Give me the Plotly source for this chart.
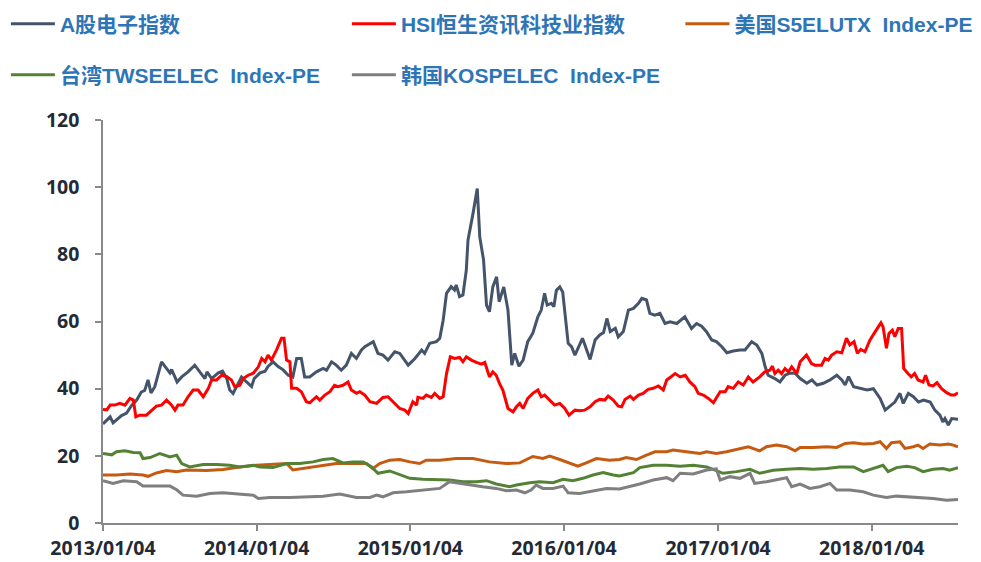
import plotly.graph_objects as go

TICK_DATES = ["2013-01-04", "2014-01-04", "2015-01-04", "2016-01-04", "2017-01-04", "2018-01-04"]
TICK_TEXT = ["2013/01/04", "2014/01/04", "2015/01/04", "2016/01/04", "2017/01/04", "2018/01/04"]

A_DATES = [
    "2013-01-04", "2013-01-21", "2013-01-28", "2013-02-17", "2013-03-01", "2013-03-13", "2013-03-25",
    "2013-04-05", "2013-04-13", "2013-04-21", "2013-04-28", "2013-05-07", "2013-05-23", "2013-06-04",
    "2013-06-12", "2013-06-16", "2013-06-29", "2013-07-10", "2013-07-25", "2013-08-10", "2013-08-22",
    "2013-09-03", "2013-09-08", "2013-09-19", "2013-10-05", "2013-10-15", "2013-10-25", "2013-11-01",
    "2013-11-09", "2013-11-17", "2013-11-29", "2013-12-11", "2013-12-23", "2013-12-29", "2014-01-12",
    "2014-01-24", "2014-01-31", "2014-02-12", "2014-02-24", "2014-03-08", "2014-03-20", "2014-03-31",
    "2014-04-09", "2014-04-20", "2014-04-28", "2014-05-10", "2014-05-26", "2014-06-11", "2014-06-19",
    "2014-07-01", "2014-07-12", "2014-07-24", "2014-08-05", "2014-08-17", "2014-08-29", "2014-09-10",
    "2014-09-18", "2014-10-08", "2014-10-19", "2014-10-31", "2014-11-12", "2014-11-28", "2014-12-10",
    "2014-12-30", "2015-01-15", "2015-01-31", "2015-02-07", "2015-02-19", "2015-03-07", "2015-03-15",
    "2015-03-23", "2015-03-31", "2015-04-11", "2015-04-19", "2015-04-23", "2015-05-01", "2015-05-09",
    "2015-05-17", "2015-05-21", "2015-06-02", "2015-06-12", "2015-06-18", "2015-06-27", "2015-07-04",
    "2015-07-11", "2015-07-19", "2015-07-28", "2015-08-03", "2015-08-14", "2015-08-24", "2015-09-02",
    "2015-09-09", "2015-09-19", "2015-09-29", "2015-10-10", "2015-10-22", "2015-11-03", "2015-11-11",
    "2015-11-19", "2015-11-25", "2015-12-05", "2015-12-11", "2015-12-17", "2015-12-25", "2016-01-01",
    "2016-01-14", "2016-01-22", "2016-01-30", "2016-02-17", "2016-03-06", "2016-03-18", "2016-03-29",
    "2016-04-07", "2016-04-15", "2016-04-23", "2016-05-05", "2016-05-12", "2016-05-24", "2016-06-05",
    "2016-06-17", "2016-06-29", "2016-07-07", "2016-07-18", "2016-07-26", "2016-08-07", "2016-08-19",
    "2016-08-31", "2016-09-12", "2016-09-28", "2016-10-17", "2016-11-02", "2016-11-14", "2016-11-26",
    "2016-12-08", "2016-12-20", "2016-12-31", "2017-01-13", "2017-01-25", "2017-02-09", "2017-02-25",
    "2017-03-09", "2017-03-25", "2017-04-06", "2017-04-18", "2017-04-26", "2017-05-03", "2017-05-19",
    "2017-05-31", "2017-06-12", "2017-06-24", "2017-07-06", "2017-07-18", "2017-08-03", "2017-08-15",
    "2017-08-27", "2017-09-11", "2017-09-27", "2017-10-13", "2017-10-25", "2017-11-02", "2017-11-10",
    "2017-11-22", "2017-12-08", "2017-12-24", "2018-01-08", "2018-01-24", "2018-02-05", "2018-02-17",
    "2018-02-28", "2018-03-12", "2018-03-20", "2018-04-01", "2018-04-13", "2018-04-25", "2018-05-07",
    "2018-05-23", "2018-06-03", "2018-06-15", "2018-06-22", "2018-06-27", "2018-07-05", "2018-07-13",
    "2018-07-28",
]
A_VALUES = [
    29.5, 31.6, 29.8, 32.0, 32.7, 35.0, 36.6,
    39.0, 39.5, 42.6, 38.7, 40.6, 48.0, 46.0,
    44.7, 45.7, 42.0, 43.5, 45.0, 47.0, 45.0,
    43.0, 45.0, 43.0, 44.7, 45.2, 43.0, 39.6,
    38.6, 40.6, 43.5, 42.0, 40.6, 43.0, 44.7,
    45.2, 46.6, 48.0, 46.6, 45.6, 44.0, 43.5,
    49.0, 49.0, 43.5, 43.5, 45.0, 46.0, 45.5,
    48.0, 47.0, 45.5, 47.0, 50.5, 49.0, 51.5,
    52.5, 54.0, 50.5, 50.0, 48.5, 51.0, 50.5,
    47.0, 49.0, 51.5, 50.5, 53.5, 54.0, 55.0,
    60.4, 68.4, 70.4, 69.4, 70.9, 67.4, 67.9,
    75.3, 84.2, 92.2, 99.6, 85.2, 78.3, 64.9,
    62.9, 70.3, 73.3, 65.9, 70.3, 63.4, 47.0,
    50.5, 46.7, 48.5, 54.0, 56.5, 61.4, 63.4,
    68.4, 64.9, 65.4, 64.4, 69.3, 70.3, 68.8,
    53.5, 52.5, 50.0, 55.0, 48.7, 54.5, 56.0,
    56.7, 60.9, 57.0, 58.0, 55.4, 57.0, 63.4,
    63.9, 65.4, 66.9, 66.4, 62.4, 61.9, 62.4,
    59.4, 59.9, 59.4, 61.4, 57.9, 59.4, 58.6,
    56.9, 54.5, 54.0, 52.5, 50.7, 51.2, 51.5,
    51.5, 54.0, 53.0, 50.5, 46.5, 44.0, 43.0,
    42.0, 44.0, 44.6, 44.6, 43.0, 41.6, 42.6,
    41.1, 41.6, 42.6, 44.0, 42.6, 41.1, 43.6,
    40.6, 40.0, 39.6, 40.0, 37.1, 33.6, 35.0,
    36.0, 38.6, 35.6, 38.6, 37.6, 36.0, 36.6,
    36.0, 33.6, 32.1, 30.1, 31.1, 29.2, 31.1,
    30.9,
]

HSI_DATES = [
    "2013-01-04", "2013-01-13", "2013-01-21", "2013-02-01", "2013-02-13", "2013-02-25", "2013-03-09",
    "2013-03-17", "2013-03-23", "2013-04-01", "2013-04-17", "2013-04-29", "2013-05-11", "2013-05-23",
    "2013-06-04", "2013-06-16", "2013-06-24", "2013-07-01", "2013-07-13", "2013-07-25", "2013-08-06",
    "2013-08-18", "2013-08-30", "2013-09-11", "2013-09-19", "2013-10-01", "2013-10-13", "2013-10-25",
    "2013-11-05", "2013-11-13", "2013-11-25", "2013-12-03", "2013-12-15", "2013-12-27", "2014-01-08",
    "2014-01-16", "2014-01-24", "2014-01-31", "2014-02-08", "2014-02-20", "2014-03-04", "2014-03-10",
    "2014-03-16", "2014-03-24", "2014-03-28", "2014-04-09", "2014-04-20", "2014-05-02", "2014-05-10",
    "2014-05-26", "2014-06-03", "2014-06-15", "2014-06-27", "2014-07-08", "2014-07-16", "2014-07-28",
    "2014-08-09", "2014-08-17", "2014-08-29", "2014-09-06", "2014-09-18", "2014-09-30", "2014-10-16",
    "2014-10-31", "2014-11-12", "2014-11-28", "2014-12-10", "2014-12-22", "2014-12-30", "2015-01-10",
    "2015-01-19", "2015-01-22", "2015-02-03", "2015-02-11", "2015-02-23", "2015-03-03", "2015-03-15",
    "2015-03-23", "2015-03-31", "2015-04-09", "2015-04-19", "2015-05-01", "2015-05-09", "2015-05-17",
    "2015-05-29", "2015-06-10", "2015-06-22", "2015-06-30", "2015-07-11", "2015-07-19", "2015-07-27",
    "2015-08-04", "2015-08-12", "2015-08-24", "2015-09-05", "2015-09-13", "2015-09-21", "2015-09-29",
    "2015-10-10", "2015-10-22", "2015-11-03", "2015-11-11", "2015-11-19", "2015-12-01", "2015-12-13",
    "2015-12-25", "2016-01-06", "2016-01-16", "2016-01-30", "2016-02-10", "2016-02-22", "2016-03-06",
    "2016-03-18", "2016-03-29", "2016-04-10", "2016-04-18", "2016-04-30", "2016-05-12", "2016-05-20",
    "2016-05-28", "2016-06-09", "2016-06-17", "2016-06-29", "2016-07-10", "2016-07-22", "2016-08-03",
    "2016-08-15", "2016-08-27", "2016-09-04", "2016-09-16", "2016-09-24", "2016-10-06", "2016-10-18",
    "2016-10-29", "2016-11-10", "2016-11-18", "2016-11-30", "2016-12-12", "2016-12-24", "2017-01-09",
    "2017-01-21", "2017-01-28", "2017-02-09", "2017-02-21", "2017-03-05", "2017-03-17", "2017-03-28",
    "2017-04-13", "2017-04-25", "2017-05-07", "2017-05-13", "2017-05-19", "2017-05-27", "2017-06-04",
    "2017-06-12", "2017-06-20", "2017-06-28", "2017-07-10", "2017-07-18", "2017-08-02", "2017-08-14",
    "2017-08-22", "2017-09-07", "2017-09-15", "2017-09-23", "2017-10-01", "2017-10-13", "2017-10-25",
    "2017-11-05", "2017-11-13", "2017-11-23", "2017-12-01", "2017-12-09", "2017-12-19", "2017-12-31",
    "2018-01-12", "2018-01-26", "2018-01-31", "2018-02-08", "2018-02-14", "2018-02-22", "2018-02-28",
    "2018-03-08", "2018-03-16", "2018-03-21", "2018-03-31", "2018-04-08", "2018-04-16", "2018-04-24",
    "2018-05-06", "2018-05-12", "2018-05-20", "2018-05-30", "2018-06-08", "2018-06-19", "2018-07-01",
    "2018-07-12", "2018-07-20", "2018-07-28",
]
HSI_VALUES = [
    33.8, 33.7, 35.1, 35.1, 35.6, 35.1, 37.1,
    36.6, 31.6, 32.1, 32.1, 33.6, 34.8, 35.1,
    36.6, 35.1, 33.6, 35.1, 35.1, 37.6, 39.6,
    39.6, 37.6, 40.0, 42.6, 42.6, 44.0, 43.6,
    42.6, 40.6, 41.0, 43.0, 44.0, 44.6, 46.5,
    49.0, 48.0, 50.0, 48.5, 51.5, 55.0, 55.0,
    48.5, 48.0, 40.1, 40.1, 39.1, 36.1, 35.8,
    37.6, 36.6, 38.1, 39.1, 41.0, 40.6, 41.0,
    42.0, 39.6, 38.6, 39.1, 38.1, 36.1, 35.6,
    37.4, 37.6, 35.6, 34.1, 33.6, 32.6, 36.1,
    35.1, 37.4, 37.1, 38.1, 37.4, 38.6, 37.1,
    37.6, 44.5, 49.5, 49.0, 49.3, 48.0, 49.5,
    48.5, 47.8, 47.3, 47.8, 43.5, 45.0, 44.0,
    41.5, 39.5, 34.1, 33.1, 34.6, 35.6, 34.1,
    37.1, 38.6, 39.6, 37.6, 38.1, 36.6, 35.1,
    35.6, 34.1, 32.1, 33.6, 33.4, 33.6, 34.6,
    36.1, 36.8, 36.6, 37.8, 36.6, 34.8, 34.6,
    36.8, 37.8, 36.8, 38.1, 38.6, 39.8, 40.1,
    40.8, 39.6, 42.6, 43.7, 44.5, 43.5, 44.0,
    42.0, 40.6, 38.6, 38.1, 37.1, 35.8, 39.1,
    39.1, 40.6, 40.1, 42.0, 41.1, 43.5, 42.0,
    43.5, 45.0, 45.5, 46.7, 44.5, 45.5, 44.5,
    46.0, 45.0, 46.5, 44.5, 48.0, 50.0, 47.5,
    47.0, 47.0, 49.0, 48.5, 50.0, 51.0, 50.7,
    55.0, 53.0, 54.0, 50.5, 51.7, 51.0, 54.5,
    56.9, 59.6, 58.4, 52.0, 56.4, 57.4, 55.5,
    57.9, 57.9, 46.0, 44.5, 43.5, 44.5, 42.6,
    42.0, 44.0, 41.1, 40.8, 41.8, 40.0, 38.8,
    38.1, 38.1, 38.8,
]

US_DATES = [
    "2013-01-04", "2013-02-05", "2013-03-09", "2013-04-09", "2013-04-21", "2013-05-11", "2013-06-04",
    "2013-06-28", "2013-07-21", "2013-08-14", "2013-09-07", "2013-10-16", "2013-11-25", "2014-01-04",
    "2014-02-12", "2014-03-16", "2014-03-31", "2014-04-24", "2014-05-18", "2014-06-11", "2014-07-12",
    "2014-08-21", "2014-09-22", "2014-10-07", "2014-10-23", "2014-11-16", "2014-12-10", "2015-01-03",
    "2015-01-26", "2015-02-11", "2015-03-15", "2015-04-23", "2015-06-02", "2015-07-11", "2015-08-20",
    "2015-09-21", "2015-10-22", "2015-11-15", "2015-12-01", "2015-12-25", "2016-01-18", "2016-02-06",
    "2016-02-26", "2016-03-21", "2016-04-21", "2016-05-15", "2016-05-31", "2016-06-24", "2016-07-18",
    "2016-08-07", "2016-09-04", "2016-09-19", "2016-10-21", "2016-11-22", "2016-12-08", "2016-12-31",
    "2017-01-24", "2017-02-17", "2017-03-17", "2017-04-13", "2017-04-29", "2017-05-23", "2017-06-16",
    "2017-07-06", "2017-07-18", "2017-08-18", "2017-09-19", "2017-10-13", "2017-11-02", "2017-11-22",
    "2017-12-15", "2018-01-08", "2018-01-24", "2018-02-08", "2018-02-20", "2018-03-12", "2018-03-24",
    "2018-04-13", "2018-04-24", "2018-05-06", "2018-05-22", "2018-06-15", "2018-07-05", "2018-07-17",
    "2018-07-28",
]
US_VALUES = [
    14.3, 14.3, 14.6, 14.3, 13.9, 14.9, 15.6,
    15.3, 15.8, 15.8, 15.6, 15.9, 16.7, 17.2,
    17.5, 17.7, 15.8, 16.2, 16.7, 17.2, 17.7,
    17.7, 17.7, 16.2, 17.7, 18.7, 18.9, 18.2,
    17.7, 18.7, 18.7, 19.2, 19.2, 18.2, 17.7,
    17.9, 19.8, 19.2, 19.9, 18.9, 17.7, 16.9,
    17.9, 19.2, 18.7, 18.9, 19.5, 18.9, 20.2,
    21.2, 21.2, 21.7, 21.2, 20.7, 21.2, 20.7,
    21.2, 21.9, 22.7, 21.5, 22.7, 23.2, 22.7,
    21.5, 22.5, 22.5, 22.7, 22.5, 23.7, 23.9,
    23.5, 23.7, 24.2, 22.2, 23.9, 24.2, 22.2,
    22.7, 23.2, 22.2, 23.5, 23.2, 23.5, 23.2,
    22.7,
]

TW_DATES = [
    "2013-01-04", "2013-01-25", "2013-02-05", "2013-02-25", "2013-03-17", "2013-04-02", "2013-04-09",
    "2013-04-26", "2013-05-19", "2013-06-12", "2013-06-28", "2013-07-10", "2013-07-29", "2013-08-30",
    "2013-10-01", "2013-11-01", "2013-11-25", "2013-12-27", "2014-01-12", "2014-02-12", "2014-03-16",
    "2014-04-16", "2014-05-18", "2014-06-11", "2014-07-04", "2014-07-28", "2014-08-21", "2014-09-14",
    "2014-10-04", "2014-10-19", "2014-11-16", "2014-12-10", "2015-01-03", "2015-02-03", "2015-03-15",
    "2015-04-07", "2015-05-09", "2015-06-10", "2015-07-04", "2015-07-27", "2015-08-28", "2015-09-13",
    "2015-10-15", "2015-11-07", "2015-12-09", "2016-01-02", "2016-01-25", "2016-02-18", "2016-03-13",
    "2016-04-06", "2016-04-30", "2016-05-15", "2016-06-17", "2016-07-02", "2016-08-03", "2016-09-04",
    "2016-10-06", "2016-11-06", "2016-12-08", "2016-12-31", "2017-01-16", "2017-02-17", "2017-03-21",
    "2017-04-13", "2017-05-15", "2017-06-16", "2017-07-18", "2017-08-18", "2017-09-19", "2017-10-20",
    "2017-11-22", "2017-12-15", "2018-01-08", "2018-01-31", "2018-02-12", "2018-03-04", "2018-03-28",
    "2018-04-16", "2018-05-06", "2018-05-30", "2018-06-23", "2018-07-08", "2018-07-28",
]
TW_VALUES = [
    20.7, 20.3, 21.2, 21.5, 21.0, 20.9, 19.2,
    19.5, 20.7, 19.7, 20.2, 17.7, 16.7, 17.4,
    17.4, 17.2, 16.7, 17.2, 16.7, 16.5, 17.7,
    17.7, 18.2, 18.9, 19.2, 17.9, 18.2, 18.2,
    16.7, 14.8, 15.5, 14.3, 13.3, 13.0, 13.0,
    12.8, 12.3, 12.3, 12.6, 11.6, 10.8, 11.3,
    12.0, 12.3, 12.0, 13.0, 12.6, 13.3, 14.3,
    15.0, 14.3, 14.0, 15.0, 16.5, 17.2, 17.2,
    16.9, 17.2, 16.7, 15.7, 14.8, 15.3, 16.0,
    14.8, 15.7, 16.0, 16.2, 16.0, 16.2, 16.7,
    16.7, 15.3, 16.2, 17.2, 15.3, 16.5, 16.9,
    16.5, 15.3, 16.0, 16.2, 15.7, 16.5,
]

KR_DATES = [
    "2013-01-04", "2013-01-28", "2013-02-21", "2013-03-25", "2013-04-09", "2013-05-11", "2013-06-12",
    "2013-06-28", "2013-07-13", "2013-08-14", "2013-09-15", "2013-10-16", "2013-11-25", "2013-12-27",
    "2014-01-08", "2014-02-04", "2014-03-24", "2014-05-02", "2014-06-11", "2014-07-20", "2014-08-29",
    "2014-09-30", "2014-10-16", "2014-10-31", "2014-11-24", "2014-12-26", "2015-02-03", "2015-03-15",
    "2015-04-07", "2015-05-01", "2015-05-25", "2015-06-25", "2015-07-27", "2015-08-20", "2015-09-13",
    "2015-10-03", "2015-10-18", "2015-10-30", "2015-11-15", "2015-12-09", "2016-01-02", "2016-01-14",
    "2016-02-10", "2016-03-13", "2016-04-14", "2016-05-15", "2016-06-09", "2016-07-02", "2016-08-03",
    "2016-09-04", "2016-09-19", "2016-10-06", "2016-11-06", "2016-12-08", "2016-12-31", "2017-01-09",
    "2017-02-01", "2017-02-25", "2017-03-21", "2017-04-01", "2017-04-29", "2017-05-23", "2017-06-16",
    "2017-06-28", "2017-07-18", "2017-08-10", "2017-09-03", "2017-09-27", "2017-10-13", "2017-11-13",
    "2017-12-15", "2018-01-08", "2018-02-08", "2018-03-04", "2018-03-28", "2018-04-28", "2018-05-30",
    "2018-07-01", "2018-07-28",
]
KR_VALUES = [
    12.6, 11.8, 12.6, 12.3, 11.0, 11.0, 11.0,
    9.9, 8.3, 8.0, 8.8, 9.0, 8.6, 8.3,
    7.3, 7.6, 7.6, 7.8, 8.0, 8.6, 7.6,
    7.6, 8.3, 7.8, 9.0, 9.3, 9.8, 10.3,
    12.3, 11.8, 11.3, 10.8, 10.3, 9.6, 9.8,
    9.0, 9.8, 11.3, 10.3, 10.3, 11.0, 9.0,
    8.8, 9.6, 10.3, 10.1, 10.8, 11.6, 12.8,
    13.5, 12.6, 14.8, 14.6, 15.8, 16.1, 12.8,
    13.8, 13.3, 14.8, 11.8, 12.3, 12.8, 13.5,
    10.8, 11.6, 10.3, 10.8, 11.8, 9.8, 9.8,
    9.3, 8.3, 7.6, 8.0, 7.8, 7.6, 7.3,
    6.8, 7.0,
]

# (name, dates, values, colour, legend row/slot)
SERIES = [
    ("A股电子指数", A_DATES, A_VALUES, "#44546A", "legend"),
    ("HSI恒生资讯科技业指数", HSI_DATES, HSI_VALUES, "#FF0000", "legend"),
    ("美国S5ELUTX  Index-PE", US_DATES, US_VALUES, "#C55A11", "legend3"),
    ("台湾TWSEELEC  Index-PE", TW_DATES, TW_VALUES, "#548235", "legend2"),
    ("韩国KOSPELEC  Index-PE", KR_DATES, KR_VALUES, "#7F7F7F", "legend2"),
]

AXIS_GREY = "#898989"
LABEL_FONT = dict(family="Open Sans, Noto Sans CJK SC", size=19.5, color="#232a36", weight="bold")
LEGEND_FONT = dict(family="Liberation Sans, Noto Sans CJK SC", size=21, color="#2E75B6", weight="bold")

fig = go.Figure()
for name, dates, values, color, legend in SERIES:
    fig.add_trace(
        go.Scatter(
            x=dates,
            y=values,
            name=name,
            mode="lines",
            line=dict(color=color, width=3),
            legend=legend,
        )
    )

legend_common = dict(
    orientation="h",
    xref="container",
    yref="container",
    xanchor="left",
    yanchor="middle",
    entrywidth=282,
    itemwidth=44,
    font=LEGEND_FONT,
    bgcolor="rgba(0,0,0,0)",
    traceorder="normal",
)

axis_common = dict(
    ticks="outside",
    ticklen=6,
    tickwidth=1.5,
    tickcolor=AXIS_GREY,
    showline=True,
    linecolor=AXIS_GREY,
    linewidth=1.5,
    showgrid=False,
    zeroline=False,
    tickfont=LABEL_FONT,
    automargin=False,
)

fig.update_layout(
    width=981,
    height=562,
    margin=dict(l=103, r=23, t=120, b=39),
    paper_bgcolor="white",
    plot_bgcolor="white",
    showlegend=True,
    legend=dict(x=0.006, y=0.957, **legend_common),
    legend2=dict(x=0.006, y=0.8665, **legend_common),
    legend3=dict(x=0.6936, y=0.957, **legend_common),
    xaxis=dict(
        type="date",
        range=["2013-01-04", "2018-07-28"],
        tickvals=TICK_DATES,
        ticktext=TICK_TEXT,
        ticklabelstandoff=1,
        **axis_common,
    ),
    yaxis=dict(
        range=[0, 120],
        tickmode="linear",
        tick0=0,
        dtick=20,
        ticklabelstandoff=12,
        **axis_common,
    ),
)

fig.write_html(
    "out.html",
    config={"displayModeBar": False},
    post_script="document.body.style.margin='0';",
)
